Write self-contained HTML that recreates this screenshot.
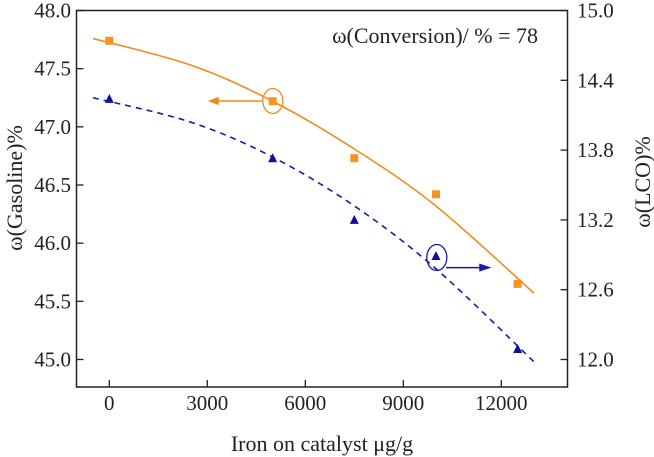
<!DOCTYPE html>
<html><head><meta charset="utf-8"><style>
body{margin:0;background:#fff}
svg{display:block;font-family:"Liberation Serif",serif}
</style></head><body>
<svg id="chart" width="654" height="457" viewBox="0 0 654 457"></svg>
<script>
const xTicks=[0,3000,6000,9000,12000];
const yLeftTicks=[45.0,45.5,46.0,46.5,47.0,47.5,48.0];
const yRightTicks=[12.0,12.6,13.2,13.8,14.4,15.0];
const iron=[0,5000,7500,10000,12500];
const gasoline=[47.74,47.22,46.73,46.42,45.65];
const lco=[14.24,13.73,13.20,12.89,12.09];
const fitX=[-500,2500,5000,7500,10000,13000];
const gasolineFit=[47.76,47.53,47.22,46.81,46.32,45.57];
const lcoFit=[14.25,14.04,13.74,13.32,12.78,11.98];

const L=76.5,R=567.5,T=10.5,B=387;
const X=v=>109.3+v*(98/3000);
const YL=v=>359.5-(v-45)*(349/3);
const YR=v=>359.5-(v-12)*(349/3);
const svg=document.getElementById('chart');
const NS='http://www.w3.org/2000/svg';
function mk(tag,attrs,parent){const e=document.createElementNS(NS,tag);for(const k in attrs)e.setAttribute(k,attrs[k]);(parent||svg).appendChild(e);return e;}

let frame=mk('rect',{x:L,y:T,width:R-L,height:B-T,fill:'none',stroke:'#222','stroke-width':1.5});



xTicks.forEach(v=>{
  let t=mk('line',{x1:X(v),x2:X(v),y1:B,y2:B-7,stroke:'#222','stroke-width':1.3});
  
  
  let l=mk('text',{x:X(v),y:410,'text-anchor':'middle','font-size':21,fill:'#222'});
  l.textContent=v;
  
  
});
yLeftTicks.forEach(v=>{
  let t=mk('line',{x1:L,x2:L+7,y1:YL(v),y2:YL(v),stroke:'#222','stroke-width':1.3});
  
  
  let l=mk('text',{x:71,y:YL(v)+7,'text-anchor':'end','font-size':21,fill:'#222'});
  l.textContent=v.toFixed(1);
  
  
});
yRightTicks.forEach(v=>{
  let t=mk('line',{x1:R,x2:R-7,y1:YR(v),y2:YR(v),stroke:'#222','stroke-width':1.3});
  
  
  let l=mk('text',{x:577,y:YR(v)+7,'text-anchor':'start','font-size':21,fill:'#222'});
  l.textContent=v.toFixed(1);
  
  
});

function spline(xs,ys,fy){
  const p=xs.map((x,i)=>[X(x),fy(ys[i])]);
  let d='M'+p[0][0]+','+p[0][1];
  for(let i=0;i<p.length-1;i++){
    const p0=p[i-1]||p[i],p1=p[i],p2=p[i+1],p3=p[i+2]||p2;
    const c1=[p1[0]+(p2[0]-p0[0])/6,p1[1]+(p2[1]-p0[1])/6];
    const c2=[p2[0]-(p3[0]-p1[0])/6,p2[1]-(p3[1]-p1[1])/6];
    d+=' C'+c1+' '+c2+' '+p2;
  }
  return d;
}
let gf=mk('path',{d:spline(fitX,gasolineFit,YL),fill:'none',stroke:'#f08c1c','stroke-width':1.6});


let lf=mk('path',{d:spline(fitX,lcoFit,YR),fill:'none',stroke:'#1a1aa8','stroke-width':1.6,'stroke-dasharray':'6,5'});



iron.forEach((x,i)=>{
  let s=mk('rect',{x:X(x)-4,y:YL(gasoline[i])-4,width:8,height:8,fill:'#f7931e'});
  
  
  const cx=X(x),cy=YR(lco[i]);
  let t=mk('polygon',{points:`${cx},${cy-5} ${cx-4.5},${cy+4} ${cx+4.5},${cy+4}`,fill:'#1010a0'});
  
  
});

let e1=mk('ellipse',{cx:272.8,cy:101,rx:10,ry:12.5,fill:'none',stroke:'#f08c1c','stroke-width':1.3});


let a1=mk('path',{d:'M263,101 L216,101 M210,101 L218,98 L218,104 Z',stroke:'#f08c1c',fill:'#f08c1c','stroke-width':1.5});


let e2=mk('ellipse',{cx:436.8,cy:257.5,rx:10,ry:13,fill:'none',stroke:'#1a1aa8','stroke-width':1.3});


let a2=mk('path',{d:'M446,267.6 L482,267.6 M489,267.6 L480,264.6 L480,270.6 Z',stroke:'#1a1aa8',fill:'#1a1aa8','stroke-width':1.5});



let ann=mk('text',{x:538,y:43,'text-anchor':'end','font-size':22,fill:'#222'});
ann.textContent='ω(Conversion)/ % = 78';


let xl=mk('text',{x:322,y:451,'text-anchor':'middle','font-size':22,fill:'#222'});
xl.textContent='Iron on catalyst μg/g';


let yl=mk('text',{x:0,y:0,'text-anchor':'middle','font-size':22,fill:'#222',transform:'translate(22,188) rotate(-90)'});
yl.textContent='ω(Gasoline)%';


let yr=mk('text',{x:0,y:0,'text-anchor':'middle','font-size':22,fill:'#222',transform:'translate(650,182) rotate(-90)'});
yr.textContent='ω(LCO)%';


</script>
</body></html>
